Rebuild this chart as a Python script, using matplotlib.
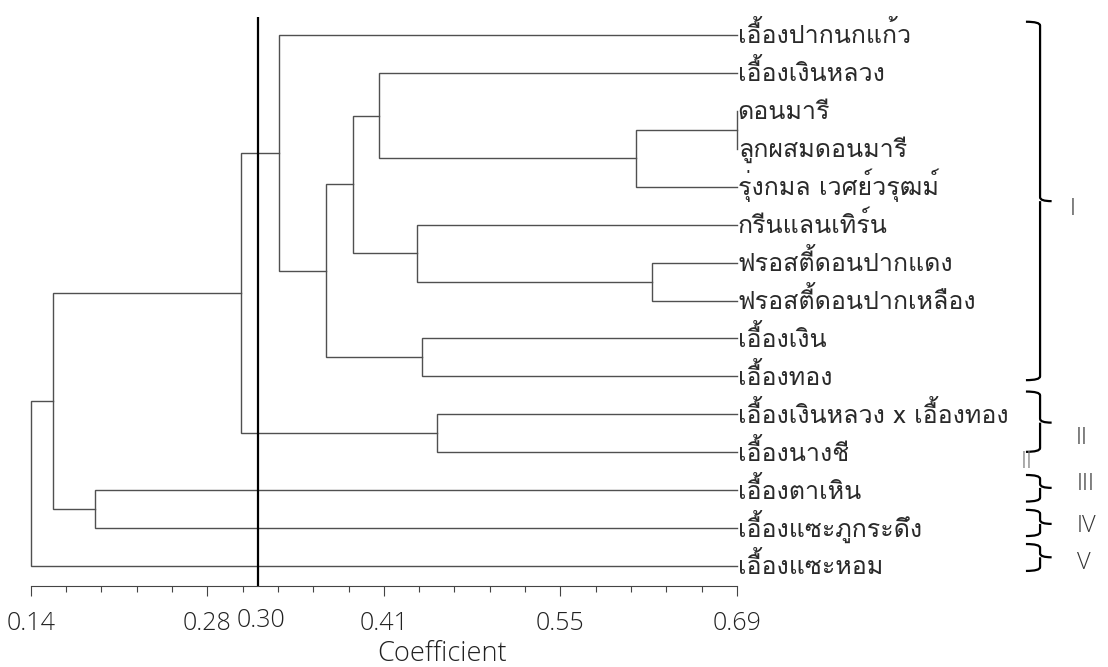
import matplotlib
matplotlib.use('Agg')
import matplotlib.pyplot as plt
from matplotlib.path import Path
from matplotlib.patches import PathPatch
import numpy as np

# leaves, top to bottom
leaves = ['เอื้องปากนกแก้ว', 'เอื้องเงินหลวง', 'ดอนมารี', 'ลูกผสมดอนมารี',
          'รุ่งกมล เวศย์วรุฒม์', 'กรีนแลนเทิร์น', 'ฟรอสตี้ดอนปากแดง',
          'ฟรอสตี้ดอนปากเหลือง', 'เอื้องเงิน', 'เอื้องทอง',
          'เอื้องเงินหลวง x เอื้องทอง', 'เอื้องนางชี', 'เอื้องตาเหิน',
          'เอื้องแซะภูกระดึง', 'เอื้องแซะหอม']

# merges: (child a, child b, coefficient); new nodes numbered from 15
merge_a = [2, 15, 6, 1, 5, 18, 8, 20, 0, 10, 23, 12, 25, 27]
merge_b = [3, 4, 7, 16, 17, 19, 9, 21, 22, 11, 24, 13, 26, 14]
merge_c = [0.69, 0.611, 0.624, 0.411, 0.441, 0.391, 0.445, 0.370,
           0.333, 0.456, 0.304, 0.190, 0.157, 0.14]

cut_value = 0.317
cut_label = '0.30'
major_ticks = [0.14, 0.2775, 0.415, 0.5525, 0.69]
major_labels = ['0.14', '0.28', '0.41', '0.55', '0.69']

groups = ['I', 'II', 'III', 'IV', 'V']
group_top = [-0.35, 9.4, 11.6, 12.52, 13.42]
group_bot = [9.1, 10.99, 12.3, 13.21, 14.13]
group_mid = [4.38, 10.22, 11.94, 12.89, 13.77]
group_text_y = [4.59, 10.62, 11.84, 12.94, 13.91]
group_text_dx = [18, 24, 25, 25, 25]

thai = ['Loma', 'DejaVu Sans']
latin = ['Open Sans', 'DejaVu Sans']
plt.rcParams['font.family'] = latin

fig = plt.figure(figsize=(11.08, 6.67), dpi=100)
ax = fig.add_axes([30.7 / 1108, (667 - 586) / 667, (737 - 30.7) / 1108, (586 - 17.3) / 667])
ax.set_xlim(0.14, 0.69)
ax.set_ylim(14.527, -0.467)

line_col = '#505050'
pos = {i: (0.69, float(i)) for i in range(len(leaves))}
for k, (a, b, c) in enumerate(zip(merge_a, merge_b, merge_c)):
    xa, ya = pos[a]
    xb, yb = pos[b]
    ax.plot([xa, c, c, xb], [ya, ya, yb, yb], color=line_col, lw=1.0,
            solid_joinstyle='miter', clip_on=False)
    pos[len(leaves) + k] = (c, (ya + yb) / 2)

ax.axvline(cut_value, color='black', lw=1.6)

for i, name in enumerate(leaves):
    ax.annotate(name, (0.69, i), xytext=(0.5, -6.1), textcoords='offset points',
                ha='left', va='baseline', fontsize=18, color='#2a2a2a', family=thai,
                annotation_clip=False)

for s in ['top', 'right', 'left']:
    ax.spines[s].set_visible(False)
ax.spines['bottom'].set_color('#444444')
ax.set_yticks([])
ax.set_xticks(major_ticks)
ax.set_xticklabels(major_labels, fontsize=18, color='#222222', fontweight='light')
ax.set_xticks(np.arange(0.14, 0.69 + 1e-9, 0.0275), minor=True)
ax.tick_params(axis='x', which='major', length=7.2, width=0.8, color='#444444', pad=11)
ax.tick_params(axis='x', which='minor', length=4.3, width=0.8, color='#444444')
ax.annotate(cut_label, (cut_value, 0), xycoords=('data', 'axes fraction'),
            xytext=(2, -15.8), textcoords='offset points', ha='center', va='top',
            fontsize=18, color='#222222', fontweight='light')
ax.annotate('Coefficient', (0.46, 0), xycoords=('data', 'axes fraction'),
            xytext=(0, -39), textcoords='offset points', ha='center', va='top',
            fontsize=19.5, color='#222222', fontweight='light')

# braces for the groups
bx = 0.926
for g, t, b, m, ty, dx in zip(groups, group_top, group_bot, group_mid,
                               group_text_y, group_text_dx):
    w = 0.011
    verts = [(bx - w, t), (bx, t), (bx, t + 0.1), (bx, m - 0.1), (bx, m), (bx + 0.009, m),
             (bx, m), (bx, m + 0.1), (bx, b - 0.1), (bx, b), (bx - w, b)]
    codes = [Path.MOVETO, Path.CURVE3, Path.CURVE3, Path.LINETO, Path.CURVE3, Path.CURVE3,
             Path.MOVETO, Path.CURVE3, Path.LINETO, Path.CURVE3, Path.CURVE3]
    ax.add_patch(PathPatch(Path(verts, codes), fill=False, lw=1.6, ec='black', clip_on=False))
    ax.annotate(g, (bx + 0.009, ty), xytext=(dx * 0.72, 0), textcoords='offset points',
                ha='left', va='center', fontsize=17, color='#333333', fontweight='light',
                annotation_clip=False)

# stray label left over in the original figure
ax.annotate('II', (bx, 10.99), xytext=(-10, -7), textcoords='offset points',
            ha='center', va='center', fontsize=17, color='#777777', fontweight='light',
            annotation_clip=False)

fig.savefig('out.png', dpi=100)
